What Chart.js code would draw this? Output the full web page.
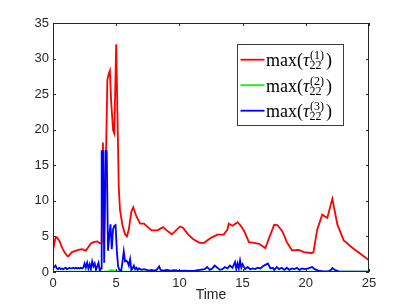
<!DOCTYPE html>
<html>
<head>
<meta charset="utf-8">
<script src="https://cdn.jsdelivr.net/npm/chart.js@4.4.0/dist/chart.umd.min.js"></script>
<style>
  body { margin: 0; background: #fff; }
  canvas { display: block; }
</style>
</head>
<body>
<canvas id="chart" width="408" height="306"></canvas>
<script>
// valeurs
const xTicks = [0, 5, 10, 15, 20, 25];
const yTicks = [0, 5, 10, 15, 20, 25, 30, 35];

const redTime = [0, 0.1, 0.2, 0.3, 0.5, 0.7, 0.9, 1.1, 1.2, 1.5, 2.0, 2.3, 2.6, 2.8, 3.0, 3.2, 3.5, 3.75, 3.85, 3.95, 4.05, 4.15, 4.3, 4.4, 4.5, 4.6, 4.75, 4.85, 5.0, 5.1, 5.2, 5.3, 5.5, 5.7, 5.85, 6.0, 6.2, 6.35, 6.6, 6.9, 7.2, 7.5, 7.8, 8.3, 8.7, 9.0, 9.4, 10.05, 10.3, 10.7, 11.1, 11.6, 11.95, 12.5, 13.0, 13.5, 13.8, 13.9, 14.2, 14.6, 14.85, 15.1, 15.5, 15.9, 16.3, 16.8, 17.1, 17.5, 17.75, 18.15, 18.5, 18.9, 19.45, 19.85, 20.4, 20.6, 20.9, 21.3, 21.7, 22.1, 22.5, 23.0, 23.7, 24.35, 25];
const redValues = [3.0, 4.0, 4.8, 4.9, 4.4, 3.5, 2.8, 2.3, 2.2, 2.8, 3.1, 3.2, 3.0, 3.5, 4.0, 4.2, 4.3, 4.0, 4.1, 18.2, 6, 12, 27, 27.8, 28.3, 24, 20, 19.5, 32, 22, 12, 8.7, 6.5, 5.3, 5.0, 6.0, 8.5, 9.1, 7.8, 6.8, 6.8, 6.3, 5.85, 5.9, 6.3, 5.85, 5.3, 6.4, 6.2, 5.25, 4.6, 4.1, 4.1, 4.8, 5.25, 5.25, 5.95, 6.8, 6.5, 7.0, 6.5, 5.85, 4.2, 4.1, 3.97, 3.37, 4.8, 6.65, 6.6, 5.7, 4.2, 3.05, 3.1, 2.8, 2.67, 2.75, 5.95, 8.05, 7.6, 10.3, 6.65, 4.45, 3.37, 2.53, 1.64];

const greenTime = [0, 4.3, 4.6, 4.9, 5.2, 25];
const greenValues = [0.05, 0.05, 0.25, 0.2, 0.05, 0.05];

const blueTime = [0, 0.1, 0.2, 0.3, 0.4, 0.5, 0.6, 0.7, 0.8, 0.9, 1.0, 1.1, 1.2, 1.3, 1.4, 1.5, 1.6, 1.7, 1.8, 1.9, 2.0, 2.1, 2.2, 2.3, 2.4, 2.5, 2.6, 2.7, 2.8, 2.9, 3.0, 3.1, 3.2, 3.3, 3.4, 3.5, 3.6, 3.7, 3.8, 3.85, 3.95, 4.05, 4.15, 4.25, 4.35, 4.45, 4.55, 4.65, 4.75, 4.85, 4.95, 5.05, 5.15, 5.25, 5.4, 5.5, 5.6, 5.7, 5.8, 5.9, 6.0, 6.1, 6.2, 6.3, 6.4, 6.5, 6.6, 6.7, 6.8, 7.0, 7.2, 7.4, 7.6, 7.8, 8.0, 8.2, 8.4, 8.5, 8.7, 9.0, 9.3, 9.6, 10.0, 10.4, 10.8, 11.2, 11.6, 12.0, 12.2, 12.4, 12.6, 12.8, 13.0, 13.2, 13.4, 13.6, 13.8, 14.0, 14.2, 14.4, 14.5, 14.6, 14.7, 14.8, 14.9, 15.0, 15.2, 15.4, 15.6, 15.8, 16.0, 16.2, 16.4, 16.6, 16.8, 17.0, 17.2, 17.4, 17.5, 17.7, 17.9, 18.1, 18.3, 18.5, 18.7, 18.9, 19.1, 19.3, 19.5, 19.7, 19.9, 20.2, 20.5, 20.7, 21.0, 21.4, 21.8, 22.0, 22.1, 22.3, 22.6, 23.0, 25];
const blueValues = [0.5, 0.7, 0.9, 0.5, 0.4, 0.6, 0.4, 0.5, 0.4, 0.5, 0.6, 0.4, 0.5, 0.6, 0.5, 0.5, 0.6, 0.5, 0.6, 0.5, 0.6, 0.5, 0.6, 0.5, 0.6, 1.2, 0.6, 1.3, 0.5, 1.1, 0.4, 1.5, 0.8, 1.2, 0.3, 0.8, 1.3, 0.2, 0.5, 17, 17, 1.3, 17, 17, 3, 5, 6.7, 3.2, 6.0, 6.5, 6.6, 3, 0.8, 0.3, 0.2, 1.5, 2.9, 1.5, 1.6, 1.4, 0.9, 1.8, 0.3, 0.5, 0.9, 0.4, 0.6, 0.3, 0.5, 0.3, 0.4, 0.3, 0.2, 0.3, 0.2, 0.3, 0.8, 0.3, 0.2, 0.3, 0.2, 0.25, 0.15, 0.2, 0.15, 0.2, 0.3, 0.4, 0.7, 0.3, 0.5, 0.9, 0.6, 0.3, 0.4, 0.7, 0.5, 0.9, 0.6, 1.4, 0.4, 1.2, 0.5, 1.6, 0.6, 1.1, 0.4, 0.7, 0.4, 0.5, 0.4, 0.6, 0.5, 0.8, 1.0, 1.2, 0.5, 0.6, 0.3, 0.7, 0.4, 0.6, 0.3, 0.6, 0.3, 0.5, 0.4, 0.6, 0.3, 0.5, 0.4, 0.5, 0.7, 0.4, 0.2, 0.1, 0.1, 0.3, 0.55, 0.3, 0.1, 0.05, 0.05];

const seriesTags = ['(1)', '(2)', '(3)'];
const seriesColors = ['#ff0000', '#00ff00', '#0000ff'];

function toPoints(t, v) {
  return t.map((x, i) => ({ x: x, y: v[i] }));
}

// cadre + graduations vers l'intérieur (style matlab)
const boxPlugin = {
  id: 'boxTicks',
  afterDraw(chart) {
    const { ctx, chartArea: a } = chart;
    const sx = chart.scales.x, sy = chart.scales.y;
    ctx.save();
    ctx.strokeStyle = '#262626';
    ctx.lineWidth = 1;
    ctx.strokeRect(a.left + 0.5, a.top + 0.5, a.right - a.left - 1, a.bottom - a.top - 1);
    ctx.beginPath();
    xTicks.forEach(v => {
      const px = Math.round(sx.getPixelForValue(v)) + 0.5;
      ctx.moveTo(px, a.bottom); ctx.lineTo(px, a.bottom - 3);
      ctx.moveTo(px, a.top); ctx.lineTo(px, a.top + 3);
    });
    yTicks.forEach(v => {
      const py = Math.round(sy.getPixelForValue(v)) + 0.5;
      ctx.moveTo(a.left, py); ctx.lineTo(a.left + 3, py);
      ctx.moveTo(a.right, py); ctx.lineTo(a.right - 3, py);
    });
    ctx.stroke();
    ctx.restore();
  }
};

// légende avec indices/exposants
const legendPlugin = {
  id: 'texLegend',
  afterDraw(chart) {
    const ctx = chart.ctx;
    const bx = 237.5, by = 44.5, bw = 106, bh = 81;
    ctx.save();
    ctx.fillStyle = '#fff';
    ctx.fillRect(bx, by, bw, bh);
    ctx.strokeStyle = '#3a3a3a';
    ctx.lineWidth = 1;
    ctx.strokeRect(bx, by, bw, bh);
    seriesTags.forEach((tag, i) => {
      const ly = 59.7 + i * 25.5;
      ctx.strokeStyle = seriesColors[i];
      ctx.lineWidth = 1.8;
      ctx.beginPath();
      ctx.moveTo(240.5, ly); ctx.lineTo(264.5, ly);
      ctx.stroke();

      const base = ly + 6.5;
      let x = 266;
      ctx.fillStyle = '#000';
      ctx.textBaseline = 'alphabetic';
      ctx.textAlign = 'left';
      ctx.font = '18px "Liberation Serif"';
      ctx.fillText('max(', x, base);
      x += ctx.measureText('max(').width;
      ctx.font = 'italic 18px "Liberation Serif"';
      ctx.fillText('τ', x, base);
      x += ctx.measureText('τ').width;
      ctx.font = '12px "Liberation Serif"';
      ctx.fillText(tag, x + 0.5, base - 7);
      ctx.fillText('22', x, base + 3);
      const sw = Math.max(ctx.measureText(tag).width + 0.5, ctx.measureText('22').width);
      ctx.font = '18px "Liberation Serif"';
      ctx.fillText(')', x + sw + 2, base);
    });
    ctx.restore();
  }
};

new Chart(document.getElementById('chart').getContext('2d'), {
  type: 'line',
  data: {
    datasets: [
      { data: toPoints(redTime, redValues), borderColor: seriesColors[0], borderWidth: 1.8, order: 2 },
      { data: toPoints(greenTime, greenValues), borderColor: seriesColors[1], borderWidth: 1.8, order: 1 },
      { data: toPoints(blueTime, blueValues), borderColor: seriesColors[2], borderWidth: 1.8, order: 0 }
    ]
  },
  options: {
    responsive: false,
    animation: false,
    events: [],
    layout: { padding: { top: 23, right: 39, left: 0, bottom: 0 } },
    elements: { point: { radius: 0 }, line: { tension: 0 } },
    plugins: { legend: { display: false }, tooltip: { enabled: false } },
    scales: {
      x: {
        type: 'linear',
        min: 0, max: 25,
        afterBuildTicks: s => { s.ticks = xTicks.map(v => ({ value: v })); },
        afterFit: s => { s.height = 34; },
        grid: { drawOnChartArea: false, drawTicks: false },
        border: { display: false },
        ticks: { color: '#262626', font: { family: 'Liberation Sans', size: 13 }, padding: 4, maxRotation: 0 },
        title: { display: true, text: 'Time', color: '#262626', font: { family: 'Liberation Sans', size: 14 }, padding: { top: 0, bottom: 2 } }
      },
      y: {
        min: 0, max: 35,
        afterBuildTicks: s => { s.ticks = yTicks.map(v => ({ value: v })); },
        afterFit: s => { s.width = 53; },
        grid: { drawOnChartArea: false, drawTicks: false },
        border: { display: false },
        ticks: { color: '#262626', font: { family: 'Liberation Sans', size: 13 }, padding: 4 }
      }
    }
  },
  plugins: [boxPlugin, legendPlugin]
});
</script>
</body>
</html>
